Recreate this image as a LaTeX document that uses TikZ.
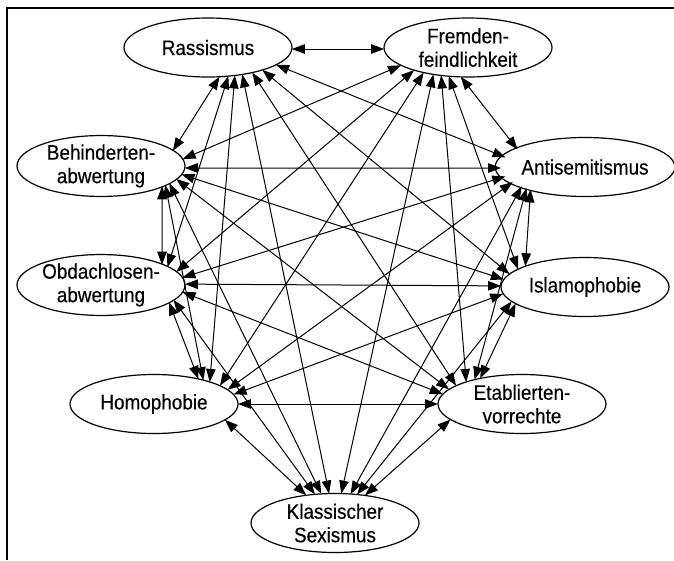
\documentclass[tikz,border=0pt]{standalone}
\usepackage{fontspec}
\setmainfont{Liberation Sans}[FakeStretch=0.9,FakeBold=0.35]
\usetikzlibrary{shapes.geometric,arrows.meta,intersections}
\begin{document}
\begin{tikzpicture}[x=1pt,y=-1pt,
  concept/.style={ellipse,draw,line width=1.2pt,minimum width=168pt,minimum height=59pt,inner sep=0pt,align=center,
    font=\fontsize{21}{23.5}\selectfont},
  edge/.style={line width=1pt,{Triangle[length=13pt,width=9.5pt]}-{Triangle[length=13pt,width=9.5pt]}}]
\useasboundingbox (0,0) rectangle (674,560);
\draw[line width=1.6pt] (7,560) -- (7,8) -- (674,8);
\node[concept] (R) at (208,47.5) {Rassismus};
\node[concept] (F) at (468,47.5) {Fremden-\\feindlichkeit};
\node[concept] (B) at (101,166) {Behinderten-\\abwertung};
\node[concept] (A) at (585,167) {Antisemitismus};
\node[concept] (O) at (101,285) {Obdachlosen-\\abwertung};
\node[concept] (I) at (585,287) {Islamophobie};
\node[concept] (H) at (154,404) {Homophobie};
\node[concept] (E) at (522,404) {Etablierten-\\vorrechte};
\node[concept] (K) at (335,523) {Klassischer\\Sexismus};
\foreach \n in {R,F,B,A,O,I,H,E,K}
  \path[name path=p\n] (\n.center) ellipse [x radius=84pt, y radius=29.5pt];
\coordinate (cR) at (237,49);
\coordinate (cF) at (439,49);
\coordinate (cB) at (162,168);
\coordinate (cO) at (162,284);
\coordinate (cA) at (532,168);
\coordinate (cI) at (524,286);
\coordinate (cH) at (208,404);
\coordinate (cE) at (468,404);
\coordinate (cK) at (335,522);
\foreach \a/\b in {R/F,R/B,R/A,R/O,R/I,R/H,R/E,R/K,
  F/B,F/A,F/O,F/I,F/H,F/E,F/K,
  B/A,B/O,B/I,B/H,B/E,B/K,
  A/O,A/I,A/H,A/E,A/K,
  O/I,O/H,O/E,O/K,
  I/H,I/E,I/K,
  H/E,H/K,E/K}{
  \path[name path=ln] (c\a) -- (c\b);
  \path[name intersections={of=ln and p\a,by=s}];
  \path[name intersections={of=ln and p\b,by=e}];
  \draw[edge] (s) -- (e);
}
\end{tikzpicture}
\end{document}
